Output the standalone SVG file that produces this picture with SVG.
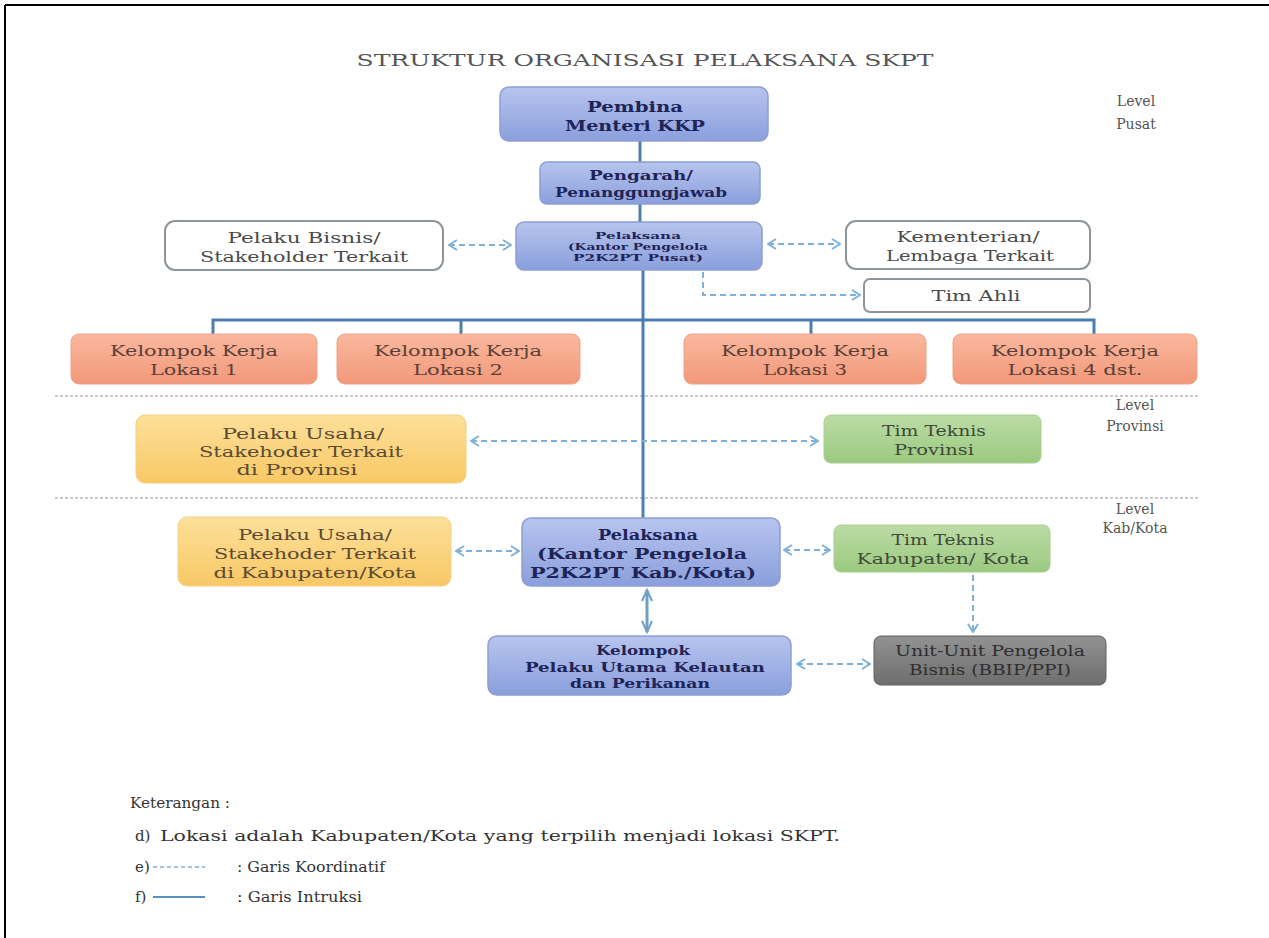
<svg xmlns="http://www.w3.org/2000/svg" width="1269" height="938" viewBox="0 0 1269 938">
<defs>
<linearGradient id="gBlue" x1="0" y1="0" x2="0" y2="1"><stop offset="0" stop-color="#b7c4ee"/><stop offset="1" stop-color="#8a9fdc"/></linearGradient>
<linearGradient id="gOrange" x1="0" y1="0" x2="0" y2="1"><stop offset="0" stop-color="#fab89e"/><stop offset="1" stop-color="#f2987a"/></linearGradient>
<linearGradient id="gYellow" x1="0" y1="0" x2="0" y2="1"><stop offset="0" stop-color="#fde09a"/><stop offset="1" stop-color="#f8c865"/></linearGradient>
<linearGradient id="gGreen" x1="0" y1="0" x2="0" y2="1"><stop offset="0" stop-color="#bcdca6"/><stop offset="1" stop-color="#9bc97f"/></linearGradient>
<linearGradient id="gGray" x1="0" y1="0" x2="0" y2="1"><stop offset="0" stop-color="#929292"/><stop offset="1" stop-color="#6e6e6e"/></linearGradient>
<marker id="chev" viewBox="0 0 10 12" refX="9" refY="6" markerWidth="10" markerHeight="12" markerUnits="userSpaceOnUse" orient="auto-start-reverse">
<path d="M1,1 L9,6 L1,11" fill="none" stroke="#7fb0d8" stroke-width="2"/>
</marker>
<marker id="chevS" viewBox="0 0 14 12" refX="12" refY="6" markerWidth="14" markerHeight="12" markerUnits="userSpaceOnUse" orient="auto-start-reverse">
<path d="M1,1 L12,6 L1,11" fill="none" stroke="#6f9fc4" stroke-width="2"/>
</marker>
<style>
.t{font-family:"DejaVu Serif","Liberation Serif",serif;text-anchor:middle;font-size:15.5px}
.b{font-family:"DejaVu Serif","Liberation Serif",serif;font-weight:bold;text-anchor:middle;fill:#1f2456}
.bl{fill:url(#gBlue);stroke:#8d9ed2;stroke-width:1.5}
.or{fill:url(#gOrange);stroke:#eaa58a;stroke-width:1}
.ye{fill:url(#gYellow);stroke:#f3cf82;stroke-width:1}
.gr{fill:url(#gGreen);stroke:#a9cf92;stroke-width:1}
.gy{fill:url(#gGray);stroke:#5f5f5f;stroke-width:1}
.wh{fill:#ffffff;stroke:#8d959b;stroke-width:2}
.solid{stroke:#4a7fae;stroke-width:3;fill:none}
.dash{stroke:#7fb0d8;stroke-width:2;fill:none;stroke-dasharray:6 4}
.sep{stroke:#b8b8b8;stroke-width:1.5;stroke-dasharray:3 2}
.lv{font-family:"DejaVu Serif","Liberation Serif",serif;font-size:14px;fill:#555;text-anchor:middle}
.lg{font-family:"DejaVu Serif","Liberation Serif",serif;font-size:15px;fill:#333}
.cw{fill:#4a4a4a}
.co{fill:#5b4037}
.cy{fill:#5b4a33}
.cg{fill:#3f4a38}
.cd{fill:#2e2e2e}
</style>
</defs>
<rect width="1269" height="938" fill="#ffffff"/>
<line x1="5" y1="5" x2="1269" y2="5" stroke="#000" stroke-width="2"/>
<line x1="5" y1="5" x2="5" y2="938" stroke="#000" stroke-width="2"/>

<text class="t" x="645" y="66" style="font-size:16.5px" fill="#555" textLength="577" lengthAdjust="spacingAndGlyphs">STRUKTUR ORGANISASI  PELAKSANA SKPT</text>

<g id="separators">
<line class="sep" x1="55" y1="396" x2="1200" y2="396"/>
<line class="sep" x1="55" y1="498" x2="1200" y2="498"/>
</g>

<g id="levels">
<text class="lv" x="1136" y="106">Level</text><text class="lv" x="1136" y="129">Pusat</text>
<text class="lv" x="1135" y="410">Level</text><text class="lv" x="1135" y="431">Provinsi</text>
<text class="lv" x="1135" y="514">Level</text><text class="lv" x="1135" y="533">Kab/Kota</text>
</g>

<g id="connectors">
<line class="solid" x1="640" y1="141" x2="640" y2="162"/>
<line class="solid" x1="640" y1="204" x2="640" y2="222"/>
<line class="solid" x1="643" y1="270" x2="643" y2="518"/>
<path class="solid" d="M213,334 V320 H1094 V334 M461,320 V334 M811,320 V334"/>
<line class="dash" x1="449" y1="245" x2="511" y2="245" marker-start="url(#chev)" marker-end="url(#chev)"/>
<line class="dash" x1="768" y1="244" x2="840" y2="244" marker-start="url(#chev)" marker-end="url(#chev)"/>
<path class="dash" d="M703,272 V295 H860" marker-end="url(#chev)"/>
<line class="dash" x1="471" y1="441" x2="818" y2="441" marker-start="url(#chev)" marker-end="url(#chev)"/>
<line class="dash" x1="456" y1="551" x2="519" y2="551" marker-start="url(#chev)" marker-end="url(#chev)"/>
<line class="dash" x1="784" y1="550" x2="830" y2="550" marker-start="url(#chev)" marker-end="url(#chev)"/>
<line class="dash" x1="973" y1="575" x2="973" y2="632" marker-end="url(#chev)"/>
<line x1="647" y1="590" x2="647" y2="632" stroke="#6f9fc4" stroke-width="3" marker-start="url(#chevS)" marker-end="url(#chevS)"/>
<line class="dash" x1="797" y1="664" x2="870" y2="664" marker-start="url(#chev)" marker-end="url(#chev)"/>
</g>

<g id="pembina">
<rect class="bl" x="500" y="87" width="268" height="54" rx="9"/>
<text class="b" x="635" y="112" font-size="14.5" textLength="96" lengthAdjust="spacingAndGlyphs">Pembina</text>
<text class="b" x="635" y="131" font-size="14.5" textLength="140" lengthAdjust="spacingAndGlyphs">Menteri KKP</text>
</g>
<g id="pengarah">
<rect class="bl" x="540" y="162" width="220" height="42" rx="7"/>
<text class="b" x="641" y="180" font-size="12.5" textLength="104" lengthAdjust="spacingAndGlyphs">Pengarah/</text>
<text class="b" x="641" y="197" font-size="12.5" textLength="172" lengthAdjust="spacingAndGlyphs">Penanggungjawab</text>
</g>
<g id="pelaksana-pusat">
<rect class="bl" x="516" y="222" width="246" height="48" rx="8"/>
<text class="b" x="638" y="239" font-size="9.5" textLength="86" lengthAdjust="spacingAndGlyphs">Pelaksana</text>
<text class="b" x="638" y="250" font-size="9.5" textLength="140" lengthAdjust="spacingAndGlyphs">(Kantor Pengelola</text>
<text class="b" x="638" y="261" font-size="9.5" textLength="130" lengthAdjust="spacingAndGlyphs">P2K2PT Pusat)</text>
</g>
<g id="pelaku-bisnis">
<rect class="wh" x="165" y="221" width="278" height="49" rx="10"/>
<text class="t cw" x="304" y="243" textLength="153" lengthAdjust="spacingAndGlyphs">Pelaku Bisnis/</text>
<text class="t cw" x="304" y="262" textLength="208" lengthAdjust="spacingAndGlyphs">Stakeholder Terkait</text>
</g>
<g id="kementerian">
<rect class="wh" x="846" y="221" width="244" height="48" rx="10"/>
<text class="t cw" x="968" y="242" textLength="143" lengthAdjust="spacingAndGlyphs">Kementerian/</text>
<text class="t cw" x="970" y="261" textLength="168" lengthAdjust="spacingAndGlyphs">Lembaga Terkait</text>
</g>
<g id="tim-ahli">
<rect class="wh" x="864" y="279" width="226" height="33" rx="6"/>
<text class="t cw" x="976" y="301" textLength="89" lengthAdjust="spacingAndGlyphs">Tim Ahli</text>
</g>
<g id="pokja-1">
<rect class="or" x="71" y="334" width="246" height="50" rx="8"/>
<text class="t co" x="194" y="356" textLength="168" lengthAdjust="spacingAndGlyphs">Kelompok Kerja</text>
<text class="t co" x="194" y="375" textLength="88" lengthAdjust="spacingAndGlyphs">Lokasi 1</text>
</g>
<g id="pokja-2">
<rect class="or" x="337" y="334" width="243" height="50" rx="8"/>
<text class="t co" x="458" y="356" textLength="168" lengthAdjust="spacingAndGlyphs">Kelompok Kerja</text>
<text class="t co" x="458" y="375" textLength="90" lengthAdjust="spacingAndGlyphs">Lokasi 2</text>
</g>
<g id="pokja-3">
<rect class="or" x="684" y="334" width="242" height="50" rx="8"/>
<text class="t co" x="805" y="356" textLength="168" lengthAdjust="spacingAndGlyphs">Kelompok Kerja</text>
<text class="t co" x="805" y="375" textLength="84" lengthAdjust="spacingAndGlyphs">Lokasi 3</text>
</g>
<g id="pokja-4">
<rect class="or" x="953" y="334" width="244" height="50" rx="8"/>
<text class="t co" x="1075" y="356" textLength="168" lengthAdjust="spacingAndGlyphs">Kelompok Kerja</text>
<text class="t co" x="1075" y="375" textLength="135" lengthAdjust="spacingAndGlyphs">Lokasi 4 dst.</text>
</g>
<g id="pelaku-usaha-prov">
<rect class="ye" x="136" y="415" width="330" height="68" rx="9"/>
<text class="t cy" x="303" y="439" textLength="162" lengthAdjust="spacingAndGlyphs">Pelaku Usaha/</text>
<text class="t cy" x="301" y="457" textLength="204" lengthAdjust="spacingAndGlyphs">Stakehoder Terkait</text>
<text class="t cy" x="297" y="475" textLength="121" lengthAdjust="spacingAndGlyphs">di Provinsi</text>
</g>
<g id="tim-teknis-prov">
<rect class="gr" x="824" y="415" width="217" height="48" rx="7"/>
<text class="t cg" x="934" y="436" textLength="104" lengthAdjust="spacingAndGlyphs">Tim Teknis</text>
<text class="t cg" x="934" y="455" textLength="80" lengthAdjust="spacingAndGlyphs">Provinsi</text>
</g>
<g id="pelaku-usaha-kab">
<rect class="ye" x="178" y="517" width="273" height="69" rx="9"/>
<text class="t cy" x="315" y="540" textLength="154" lengthAdjust="spacingAndGlyphs">Pelaku Usaha/</text>
<text class="t cy" x="315" y="559" textLength="202" lengthAdjust="spacingAndGlyphs">Stakehoder Terkait</text>
<text class="t cy" x="315" y="578" textLength="203" lengthAdjust="spacingAndGlyphs">di Kabupaten/Kota</text>
</g>
<g id="pelaksana-kab">
<rect class="bl" x="522" y="518" width="258" height="68" rx="9"/>
<text class="b" x="648" y="540" font-size="14" textLength="100" lengthAdjust="spacingAndGlyphs">Pelaksana</text>
<text class="b" x="642" y="559" font-size="14" textLength="210" lengthAdjust="spacingAndGlyphs">(Kantor Pengelola</text>
<text class="b" x="643" y="578" font-size="14" textLength="226" lengthAdjust="spacingAndGlyphs">P2K2PT Kab./Kota)</text>
</g>
<g id="tim-teknis-kab">
<rect class="gr" x="834" y="525" width="216" height="47" rx="7"/>
<text class="t cg" x="943" y="545" textLength="103" lengthAdjust="spacingAndGlyphs">Tim Teknis</text>
<text class="t cg" x="943" y="564" textLength="173" lengthAdjust="spacingAndGlyphs">Kabupaten/ Kota</text>
</g>
<g id="kelompok-pelaku">
<rect class="bl" x="488" y="636" width="303" height="59" rx="9"/>
<text class="b" x="643" y="655" font-size="13" textLength="94" lengthAdjust="spacingAndGlyphs">Kelompok</text>
<text class="b" x="645" y="672" font-size="13" textLength="240" lengthAdjust="spacingAndGlyphs">Pelaku Utama Kelautan</text>
<text class="b" x="640" y="688" font-size="13" textLength="140" lengthAdjust="spacingAndGlyphs">dan Perikanan</text>
</g>
<g id="unit-unit">
<rect class="gy" x="874" y="636" width="232" height="49" rx="7"/>
<text class="t cd" x="990" y="656" textLength="190" lengthAdjust="spacingAndGlyphs">Unit-Unit Pengelola</text>
<text class="t cd" x="990" y="675" textLength="162" lengthAdjust="spacingAndGlyphs">Bisnis (BBIP/PPI)</text>
</g>

<g id="legend">
<text class="lg" x="130" y="808" textLength="100" lengthAdjust="spacingAndGlyphs">Keterangan :</text>
<text class="lg" x="135" y="841">d)</text>
<text class="lg" x="160" y="841" textLength="680" lengthAdjust="spacingAndGlyphs">Lokasi adalah Kabupaten/Kota yang terpilih menjadi lokasi SKPT.</text>
<text class="lg" x="135" y="872">e)</text>
<line x1="153" y1="867" x2="205" y2="867" stroke="#7fb0d8" stroke-width="1.5" stroke-dasharray="4 3"/>
<text class="lg" x="237" y="872" textLength="148" lengthAdjust="spacingAndGlyphs">: Garis Koordinatif</text>
<text class="lg" x="135" y="902">f)</text>
<line x1="153" y1="897" x2="205" y2="897" stroke="#5a8fc0" stroke-width="2"/>
<text class="lg" x="237" y="902" textLength="125" lengthAdjust="spacingAndGlyphs">: Garis Intruksi</text>
</g>
</svg>
